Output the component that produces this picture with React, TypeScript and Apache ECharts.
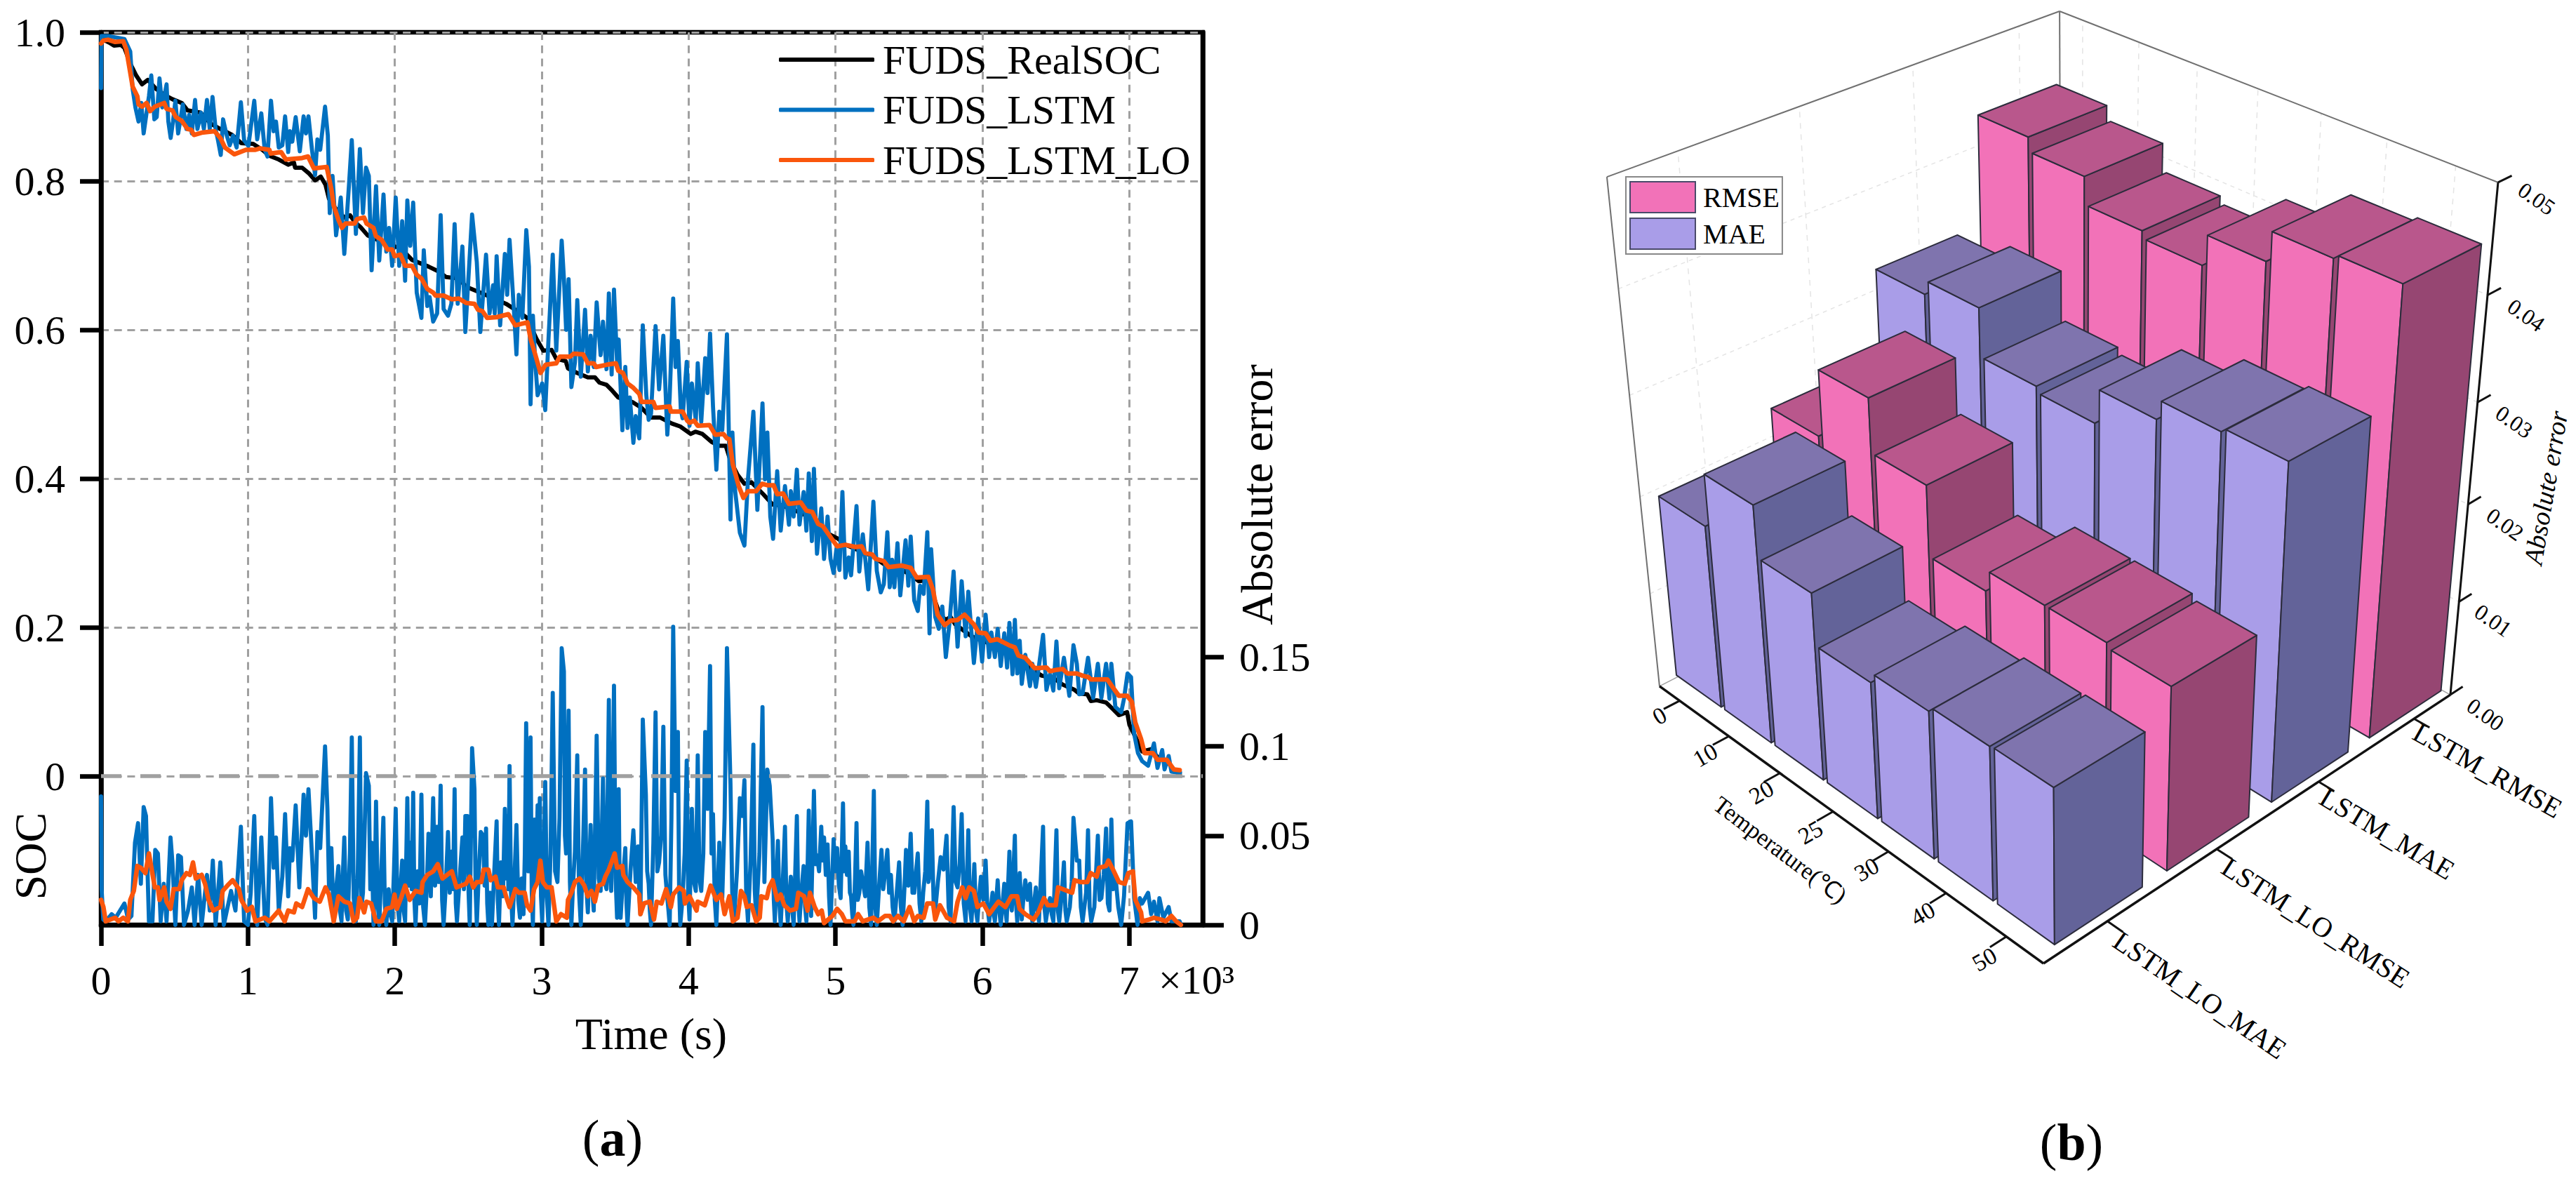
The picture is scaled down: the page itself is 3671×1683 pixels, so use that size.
import React, { useEffect, useRef } from "react";
import * as echarts from "echarts";

// ---------- Panel (a): values, flat lists of time (s), value (×0.001) ----------
const realSOC = [0,1000,16,990,56,986,88,982,135,983,159,979,199,958,239,942,279,930,318,936,374,924,430,916,486,910,549,905,589,895,677,892,748,877,812,870,892,862,955,851,1035,850,1098,842,1146,834,1210,829,1274,822,1313,825,1321,818,1369,818,1417,810,1457,801,1496,806,1528,795,1552,776,1600,762,1656,751,1695,754,1727,745,1767,738,1815,727,1863,723,1926,716,2038,710,2117,694,2229,685,2292,679,2348,671,2436,669,2484,658,2582,650,2677,642,2757,635,2844,624,2900,616,2964,588,3011,572,3067,573,3099,561,3163,558,3179,548,3242,542,3314,536,3362,536,3393,529,3441,526,3481,518,3521,509,3616,503,3680,495,3744,482,3807,482,3887,474,3943,470,4014,460,4046,463,4094,460,4158,449,4213,444,4253,444,4285,424,4333,405,4380,393,4428,395,4508,379,4572,365,4635,364,4763,354,4842,346,4906,331,4970,324,5019,319,5067,311,5178,302,5258,295,5337,284,5449,278,5528,268,5568,262,5640,264,5671,239,5711,217,5751,210,5783,214,5815,204,5926,188,5998,182,6085,176,6133,170,6197,163,6276,151,6356,141,6404,135,6483,132,6547,123,6627,116,6659,111,6714,110,6738,101,6778,102,6842,99,6889,90,6929,82,6985,86,7001,69,7041,53,7088,33,7144,36,7200,24,7263,19,7311,6,7343,3];

const lstmSOC = [0,925,3,995,48,995,159,991,199,974,215,924,234,899,255,880,274,905,290,864,310,892,326,914,342,942,363,883,379,886,398,938,417,899,446,930,458,880,474,858,490,880,506,908,525,864,557,903,581,870,600,889,618,864,640,909,656,870,681,892,700,870,721,909,740,870,759,913,780,870,796,855,815,835,831,883,852,864,876,848,899,861,923,845,952,906,974,855,1003,847,1043,908,1063,856,1091,891,1114,842,1133,833,1157,908,1175,867,1191,880,1210,845,1234,848,1253,887,1274,839,1286,867,1302,853,1325,886,1353,840,1379,887,1395,864,1412,887,1436,842,1457,808,1473,856,1492,842,1525,900,1544,861,1557,757,1576,807,1600,727,1632,778,1656,702,1688,795,1707,855,1735,729,1762,843,1783,757,1804,818,1823,807,1842,680,1872,793,1894,693,1923,782,1942,705,1961,737,1982,686,2006,778,2030,686,2050,746,2070,666,2085,774,2105,713,2125,771,2149,650,2181,616,2197,707,2221,632,2237,644,2261,611,2288,622,2312,754,2332,628,2362,619,2385,635,2407,742,2428,635,2460,712,2480,597,2526,755,2558,691,2582,597,2621,701,2645,622,2669,660,2680,622,2693,699,2717,606,2749,702,2765,647,2781,721,2812,622,2828,567,2844,647,2868,616,2895,734,2913,685,2924,500,2940,619,2956,556,2972,512,3003,528,3024,492,3046,587,3075,701,3099,572,3136,720,3151,669,3166,600,3183,668,3202,523,3226,556,3242,640,3266,537,3295,627,3314,544,3333,592,3354,550,3374,637,3401,566,3417,611,3441,547,3457,649,3476,540,3492,654,3513,556,3524,587,3549,465,3569,550,3584,468,3600,509,3624,448,3640,484,3664,454,3688,606,3712,512,3728,479,3744,487,3775,605,3799,520,3828,592,3855,459,3871,509,3895,642,3911,550,3927,585,3947,493,3959,481,3987,557,4006,471,4022,528,4049,478,4062,555,4086,476,4113,562,4129,515,4146,595,4166,497,4189,412,4209,490,4229,465,4261,594,4285,345,4298,462,4317,383,4349,327,4380,310,4404,399,4441,490,4468,358,4503,501,4520,399,4536,462,4556,349,4575,319,4603,410,4627,330,4656,390,4683,338,4696,383,4715,349,4737,412,4755,338,4783,382,4802,330,4818,407,4839,316,4853,413,4874,299,4903,360,4922,292,4946,349,4966,292,4987,273,5006,305,5027,277,5047,382,5067,267,5090,294,5106,270,5143,363,5162,275,5186,325,5223,251,5258,369,5281,276,5308,247,5329,258,5353,328,5369,254,5385,291,5401,254,5422,313,5441,243,5477,317,5496,256,5512,322,5536,236,5560,222,5576,256,5600,245,5625,328,5640,192,5651,305,5679,214,5703,198,5727,228,5751,160,5775,204,5804,275,5831,174,5859,262,5886,188,5904,248,5942,152,5971,212,5998,154,6022,217,6046,160,6061,193,6085,160,6104,198,6125,148,6149,192,6168,146,6184,206,6205,137,6221,210,6237,138,6254,182,6268,124,6292,163,6324,121,6340,151,6364,120,6385,148,6413,190,6436,116,6460,137,6483,115,6504,181,6523,118,6555,159,6592,108,6620,176,6643,151,6659,110,6682,111,6719,159,6754,105,6786,151,6810,105,6842,151,6865,104,6878,151,6905,93,6945,86,6964,104,6988,138,7012,133,7033,57,7059,31,7088,20,7128,14,7168,44,7192,11,7224,35,7240,9,7268,27,7287,6,7319,5,7346,5];

const loSOC = [0,985,16,989,48,990,96,987,151,988,172,977,191,955,215,927,247,914,255,903,279,900,310,905,334,894,366,900,430,905,446,897,486,895,509,886,549,881,589,870,613,869,632,862,685,865,772,867,812,858,844,845,907,836,987,842,1051,842,1083,844,1146,842,1154,837,1226,839,1258,829,1369,831,1409,833,1449,817,1536,819,1568,789,1584,767,1616,748,1640,737,1664,743,1727,743,1743,749,1791,751,1807,743,1855,737,1871,726,1910,721,1950,708,1982,708,1998,699,2038,701,2070,686,2117,686,2149,674,2181,669,2221,655,2261,650,2277,646,2332,646,2388,641,2436,642,2486,636,2542,635,2566,627,2597,625,2629,616,2693,617,2773,621,2820,606,2903,610,2924,588,2948,572,2992,542,3027,553,3099,555,3123,564,3194,564,3218,568,3282,567,3314,555,3354,555,3370,550,3441,553,3505,555,3521,545,3553,542,3584,528,3624,522,3664,514,3680,503,3760,503,3775,495,3871,497,3879,490,3959,490,3990,478,4006,475,4038,478,4062,471,4142,472,4181,459,4237,460,4261,454,4277,453,4301,419,4341,390,4373,374,4404,383,4460,383,4500,393,4540,391,4579,391,4603,379,4643,380,4683,366,4763,368,4802,357,4842,355,4882,339,4914,336,4971,320,5011,309,5067,311,5138,308,5178,309,5202,300,5250,298,5273,292,5329,289,5361,281,5449,283,5512,280,5552,267,5632,268,5663,251,5695,217,5743,203,5783,209,5831,210,5878,217,5942,204,5974,193,6022,192,6054,182,6101,184,6181,176,6221,173,6245,162,6292,159,6356,145,6436,146,6460,141,6507,143,6547,144,6579,138,6643,138,6682,135,6722,133,6738,130,6850,130,6889,119,6929,108,6985,108,7017,100,7041,72,7080,50,7104,31,7160,31,7192,22,7255,22,7303,9,7343,8];

const lstmError = [0,72,4,20,15,3,32,2,72,6,100,4,159,12,185,3,207,5,231,46,252,57,271,23,290,66,306,61,326,2,350,2,369,42,387,40,406,2,427,23,446,2,473,49,486,35,506,0,525,39,544,38,565,0,592,8,618,21,637,0,661,28,685,0,721,28,740,8,761,36,780,0,812,35,836,0,885,19,915,8,952,55,974,2,1000,0,1019,18,1043,61,1063,0,1091,49,1114,4,1133,0,1157,71,1175,32,1191,49,1210,8,1234,27,1253,62,1274,16,1286,43,1302,36,1325,67,1350,21,1379,73,1395,50,1412,76,1436,39,1457,4,1473,52,1492,43,1525,100,1541,65,1552,20,1560,43,1568,43,1584,2,1600,20,1616,33,1626,8,1637,2,1646,28,1656,49,1668,8,1680,3,1694,40,1707,105,1720,15,1735,2,1748,30,1762,105,1773,10,1783,18,1794,52,1804,85,1823,78,1833,20,1842,46,1855,0,1864,25,1872,69,1884,12,1894,0,1908,30,1922,60,1932,12,1942,0,1958,20,1970,6,1982,2,1994,30,2006,65,2018,12,2030,2,2040,22,2050,36,2060,8,2070,2,2085,71,2095,22,2105,46,2115,20,2125,74,2133,14,2141,0,2155,30,2168,12,2181,73,2193,10,2205,0,2217,20,2229,51,2245,16,2261,71,2274,22,2286,55,2298,24,2312,78,2322,14,2332,0,2347,22,2362,52,2374,18,2385,41,2396,20,2407,76,2415,12,2423,2,2441,26,2460,49,2470,20,2480,61,2494,61,2502,18,2510,0,2526,99,2542,76,2550,20,2558,0,2572,30,2585,52,2601,50,2611,22,2621,54,2629,12,2637,0,2649,18,2661,0,2677,30,2693,58,2701,14,2709,0,2722,35,2736,16,2749,65,2757,26,2765,61,2773,20,2781,89,2791,18,2801,0,2815,28,2828,56,2840,14,2852,4,2864,26,2876,6,2885,40,2894,113,2909,30,2924,105,2932,18,2940,0,2951,59,2961,24,2972,67,2980,30,2987,71,2995,16,3003,2,3013,32,3024,80,3035,16,3046,0,3060,40,3075,130,3091,30,3107,24,3121,60,3136,155,3151,142,3158,50,3166,40,3183,120,3192,24,3202,0,3214,24,3226,41,3242,95,3254,18,3266,0,3280,40,3295,87,3305,20,3314,7,3333,56,3344,20,3354,8,3374,106,3388,26,3401,19,3417,82,3429,24,3441,20,3457,126,3465,30,3473,19,3492,134,3503,26,3513,4,3524,76,3531,20,3537,4,3553,26,3569,43,3577,12,3584,0,3604,30,3624,53,3640,24,3656,44,3664,18,3672,6,3688,115,3709,73,3718,30,3728,23,3736,8,3744,0,3760,46,3775,119,3787,30,3799,35,3813,50,3828,111,3842,28,3855,15,3863,8,3871,0,3883,60,3895,167,3911,75,3927,108,3935,22,3943,0,3959,15,3973,40,3987,92,3997,18,4006,3,4022,65,4036,24,4049,19,4062,95,4074,26,4086,19,4100,40,4113,108,4129,65,4146,145,4156,40,4166,62,4178,14,4189,0,4209,46,4219,20,4229,15,4245,60,4261,155,4285,79,4297,18,4309,2,4329,30,4349,71,4365,61,4380,81,4392,18,4404,2,4422,36,4441,101,4450,20,4460,4,4482,40,4503,122,4516,24,4536,87,4552,78,4572,48,4580,14,4587,2,4598,26,4608,47,4618,12,4627,0,4642,26,4656,55,4666,12,4675,2,4686,16,4696,27,4706,8,4715,0,4726,30,4737,61,4746,14,4755,2,4769,20,4783,33,4793,10,4802,2,4818,64,4826,20,4834,5,4853,75,4864,34,4874,39,4888,30,4903,55,4912,36,4922,49,4934,28,4946,45,4956,16,4966,0,4987,48,4999,30,5011,43,5023,22,5035,15,5051,68,5059,30,5067,44,5078,28,5090,41,5098,18,5106,16,5114,6,5122,0,5133,26,5143,57,5152,14,5162,18,5174,30,5186,24,5202,16,5218,46,5230,10,5242,0,5261,75,5271,10,5281,0,5297,22,5313,42,5325,20,5337,29,5353,42,5365,18,5377,28,5389,10,5401,2,5417,18,5433,35,5445,10,5457,0,5469,20,5480,42,5496,22,5512,51,5524,18,5536,18,5548,30,5560,40,5572,12,5584,2,5597,18,5611,30,5625,69,5633,24,5640,28,5656,53,5668,12,5679,8,5697,24,5716,38,5735,31,5756,50,5770,10,5783,2,5804,66,5818,24,5831,21,5845,34,5859,62,5873,12,5886,2,5904,53,5915,10,5926,2,5945,34,5956,8,5966,2,5978,16,5990,27,6006,14,6022,36,6034,10,6046,2,6058,10,6069,18,6077,6,6085,2,6104,25,6115,8,6125,0,6137,12,6149,23,6157,8,6165,2,6184,41,6192,12,6200,8,6221,50,6229,12,6237,2,6254,29,6268,3,6280,16,6292,25,6308,14,6324,23,6332,8,6340,2,6352,12,6364,21,6375,8,6385,2,6413,55,6422,10,6432,2,6446,10,6460,15,6472,6,6483,2,6504,53,6514,8,6523,2,6539,16,6555,35,6565,8,6574,2,6595,10,6608,24,6620,60,6643,36,6659,36,6670,10,6682,2,6706,18,6719,53,6730,10,6741,2,6762,10,6786,50,6798,14,6810,15,6826,28,6842,54,6854,12,6865,8,6878,59,6891,20,6905,28,6925,10,6945,0,6964,16,6988,57,7012,58,7033,15,7056,0,7072,15,7088,12,7128,18,7149,6,7168,13,7192,2,7205,15,7232,4,7268,10,7287,2,7319,2,7343,2,7351,0];

const loError = [0,14,16,10,32,2,96,4,119,2,151,4,183,2,199,14,223,19,247,33,271,32,302,29,326,40,347,30,366,21,387,21,398,14,430,21,446,13,473,9,494,20,533,20,549,25,581,29,605,28,626,35,645,26,685,28,708,23,732,14,764,8,812,10,828,19,860,22,896,25,939,20,955,14,995,8,1027,10,1051,2,1114,4,1146,2,1210,8,1250,2,1274,8,1313,7,1329,12,1369,10,1409,20,1449,15,1489,13,1528,21,1552,17,1584,2,1616,16,1656,13,1695,12,1719,2,1743,4,1759,15,1791,7,1807,13,1839,12,1871,2,1910,2,1942,9,1982,10,1998,17,2014,9,2046,16,2070,22,2101,14,2141,19,2181,18,2189,24,2221,28,2261,30,2292,34,2324,26,2388,30,2420,21,2484,23,2510,27,2534,21,2558,24,2589,24,2605,31,2637,31,2653,25,2685,27,2701,21,2741,21,2757,16,2781,10,2820,20,2844,18,2884,18,2900,11,2924,8,2948,20,2972,24,2991,36,3008,24,3035,21,3067,21,3099,2,3131,6,3171,4,3179,14,3202,18,3226,24,3258,26,3290,22,3314,16,3338,19,3362,13,3385,22,3417,23,3433,27,3457,31,3497,40,3513,32,3549,33,3556,28,3584,24,3624,21,3664,17,3672,6,3696,12,3736,13,3764,3,3783,13,3815,12,3847,20,3879,10,3895,17,3935,21,3967,19,3975,12,4006,16,4054,8,4062,13,4110,11,4150,22,4189,14,4221,17,4245,6,4277,16,4301,2,4333,4,4357,19,4380,16,4396,10,4428,11,4460,2,4484,4,4495,16,4532,15,4548,21,4572,25,4603,14,4627,17,4651,11,4691,8,4731,9,4747,18,4786,16,4810,8,4826,18,4858,10,4882,6,4906,8,4922,1,4979,5,5011,9,5043,6,5067,2,5130,2,5154,6,5186,2,5258,4,5289,2,5337,5,5369,5,5393,2,5425,5,5464,2,5504,10,5536,2,5560,5,5600,4,5624,12,5664,12,5679,3,5711,11,5759,4,5807,2,5831,13,5863,21,5886,15,5910,21,5942,19,5966,10,6006,12,6046,6,6109,13,6157,10,6197,16,6237,16,6253,9,6292,6,6348,3,6380,7,6420,15,6444,11,6499,11,6515,21,6611,18,6627,25,6666,24,6714,24,6738,29,6778,27,6794,32,6842,33,6858,36,6889,31,6929,24,6969,23,6993,29,7025,30,7041,14,7080,7,7088,2,7136,3,7168,4,7216,3,7248,2,7287,5,7319,2,7351,0];

const zeroLine = [0,0,7500,0];
const timeTicks = [0,1,2,3,4,5,6,7];
const socTicks = [0,0.2,0.4,0.6,0.8,1];
const errorTicks = [0,0.05,0.1,0.15];

// ---------- Panel (b) ----------
const temperatures = ["0","10","20","25","30","40","50"];
const models = ["LSTM_LO_MAE","LSTM_LO_RMSE","LSTM_MAE","LSTM_RMSE"];
const absTicks = ["0.00","0.01","0.02","0.03","0.04","0.05"];
const lstmRMSE = [0.0428,0.0414,0.0387,0.0380,0.0410,0.0439,0.0443];
const lstmMAE = [0.0318,0.0332,0.0284,0.0278,0.0312,0.0331,0.0335];
const loRMSE = [0.0226,0.0294,0.0240,0.0169,0.0190,0.0190,0.0185];
const loMAE = [0.0190,0.0244,0.0192,0.0140,0.0150,0.0155,0.0156];

const serif = "'Liberation Serif'";
const GRAY = "#A0A0A0";

const pairs = (flat: number[], k = 1000) => {
  const out: number[][] = [];
  for (let i = 0; i < flat.length; i += 2) out.push([flat[i] / 1000, flat[i + 1] / k]);
  return out;
};

// Projective camera fitted to the six visible corners of the 3D box.
function fitCamera() {
  const w = [[0,0,0],[1,0,0],[1,1,0],[0,0,1],[1,1,1],[0,1,1]];
  const im = [[2365,978],[2912,1373],[3492,990],[2290,252],[3560,260],[2935,16]];
  const rows: number[][] = [], rhs: number[] = [];
  w.forEach((p, i) => {
    const x = im[i][0] / 1000, y = im[i][1] / 1000;
    rows.push([p[0],p[1],p[2],1,0,0,0,0,-x*p[0],-x*p[1],-x*p[2]]); rhs.push(x);
    rows.push([0,0,0,0,p[0],p[1],p[2],1,-y*p[0],-y*p[1],-y*p[2]]); rhs.push(y);
  });
  const n = 11;
  const A = Array.from({length:n},(_,a)=>{
    const r = new Array(n+1).fill(0);
    for (let b=0;b<n;b++) rows.forEach(row=>{ r[b]+=row[a]*row[b]; });
    rows.forEach((row,k)=>{ r[n]+=row[a]*rhs[k]; });
    return r;
  });
  for (let c=0;c<n;c++){
    let m=c; for(let r=c+1;r<n;r++) if(Math.abs(A[r][c])>Math.abs(A[m][c])) m=r;
    [A[c],A[m]]=[A[m],A[c]];
    for(let r=0;r<n;r++){ if(r===c) continue; const f=A[r][c]/A[c][c]; for(let k=c;k<=n;k++) A[r][k]-=f*A[c][k]; }
  }
  return A.map((r,i)=>r[n]/r[i]);
}
const cam = fitCamera();
const proj = (u:number,v:number,w:number) => {
  const d = cam[8]*u+cam[9]*v+cam[10]*w+1;
  return [1000*(cam[0]*u+cam[1]*v+cam[2]*w+cam[3])/d, 1000*(cam[4]*u+cam[5]*v+cam[6]*w+cam[7])/d];
};
const U = (i:number)=>0.06+i*0.1425;
const V = (j:number)=>0.14+j*0.253;
const HA = 0.066, HB = 0.098, VMAX = 0.05;

const barSeries = (name:string, row:number, values:number[], front:string, side:string, top:string) => ({
  type:"custom", name, xAxisIndex:1, yAxisIndex:1, clip:false, silent:true,
  itemStyle:{color:front,borderColor:"#4a4a6a",borderWidth:1.5},
  encode:{x:0,y:1},
  data: values.map((v,i)=>[i,v]),
  renderItem:(_:any, api:any)=>{
    const i=api.value(0), w=api.value(1)/VMAX;
    const u=U(i), v=V(row);
    const P=(a:number,b:number,h:number)=>api.coord(proj(u+a*HA,v+b*HB,h));
    const st=(fill:string)=>({fill,stroke:"#2c2c3c",lineWidth:2,lineJoin:"round"});
    return {type:"group",children:[
      {type:"polygon",shape:{points:[P(-1,-1,0),P(1,-1,0),P(1,-1,w),P(-1,-1,w)]},style:st(front)},
      {type:"polygon",shape:{points:[P(1,-1,0),P(1,1,0),P(1,1,w),P(1,-1,w)]},style:st(side)},
      {type:"polygon",shape:{points:[P(-1,-1,w),P(1,-1,w),P(1,1,w),P(-1,1,w)]},style:st(top)},
    ]};
  },
});

const wallSeries = {
  type:"custom", name:"walls", xAxisIndex:1, yAxisIndex:1, clip:false, silent:true,
  data:[[0,0]], encode:{x:0,y:1},
  renderItem:(_:any, api:any)=>{
    const c=(u:number,v:number,w:number)=>api.coord(proj(u,v,w));
    const seg=(a:number[],b:number[],stroke:string,lineWidth:number,dash?:number[])=>({type:"line",shape:{x1:a[0],y1:a[1],x2:b[0],y2:b[1]},style:{stroke,lineWidth,lineDash:dash,fill:null}});
    const kids:any[]=[];
    const soft="#E4E4E4";
    absTicks.forEach((_t,k)=>{
      if(k===0||k===5) return;
      const w=k/5;
      kids.push(seg(c(0,0,w),c(0,1,w),soft,1.5,[6,6]));
      kids.push(seg(c(0,1,w),c(1,1,w),soft,1.5,[6,6]));
    });
    temperatures.forEach((_t,i)=>kids.push(seg(c(U(i),1,0),c(U(i),1,1),soft,1.5,[8,8])));
    models.forEach((_t,j)=>kids.push(seg(c(0,V(j),0),c(0,V(j),1),soft,1.5,[8,8])));
    const frame="#707070";
    kids.push(seg(c(0,0,1),c(0,1,1),frame,2));
    kids.push(seg(c(0,1,1),c(1,1,1),frame,2));
    kids.push(seg(c(0,0,0),c(0,0,1),frame,2));
    kids.push(seg(c(0,1,0),c(0,1,1),frame,2));
    kids.push(seg(c(0,0,0),c(0,1,0),"#A0A0A0",1.5));
    kids.push(seg(c(0,1,0),c(1,1,0),"#A0A0A0",1.5));
    kids.push(seg(c(0,0,0),c(1,0,0),"#111",3.5));
    kids.push(seg(c(1,0,0),c(1,1,0),"#111",3.5));
    kids.push(seg(c(1,1,0),c(1,1,1),"#111",3));
    temperatures.forEach((_t,i)=>kids.push(seg(c(U(i),0,0),c(U(i),-0.035,0),"#111",3)));
    models.forEach((_t,j)=>kids.push(seg(c(1,V(j),0),c(1.035,V(j),0),"#111",3)));
    absTicks.forEach((_t,k)=>kids.push(seg(c(1,1,k/5),c(1,1.035,k/5),"#111",3)));
    return {type:"group",children:kids};
  },
};

const txt=(text:string,x:number,y:number,fontSize:number,rotation=0,extra:any={})=>({
  type:"text",x,y,rotation,silent:true,
  style:{text,fontFamily:serif,fontSize,fill:"#000",align:"center",verticalAlign:"middle",...extra},
});

const tempPos=[[2365,1020],[2430,1076],[2510,1129],[2580,1186],[2660,1239],[2740,1302],[2828,1367]];
const modelPos=[[3135,1418,0.60],[3300,1315,0.57],[3402,1188,0.54],[3545,1098,0.51]];
const absPos=[[3542,1018],[3553,884],[3570,747],[3583,601],[3600,449],[3615,283]];

const lineS=(name:string,data:number[][],color:string,width:number,yIdx=0,z=2)=>({
  type:"line",name,data,xAxisIndex:0,yAxisIndex:yIdx,showSymbol:false,symbol:"none",smooth:false,silent:true,z,
  lineStyle:{color,width,join:"round",cap:"round"},itemStyle:{color},
});

export default function App(){
  const ref=useRef<HTMLDivElement>(null);
  useEffect(()=>{
    document.body.style.margin="0";
    document.body.style.background="#fff";
    const chart=echarts.init(ref.current!,undefined,{renderer:"svg"});
    chart.setOption({
      animation:false,
      backgroundColor:"#fff",
      grid:[
        {left:144,top:46,width:1570,height:1272,show:true,borderColor:"#000",borderWidth:6.5,containLabel:false},
        {left:0,top:0,width:3671,height:1683,show:false},
      ],
      xAxis:[
        {type:"value",gridIndex:0,min:0,max:7.5,interval:1,
          axisLine:{show:true,onZero:false,lineStyle:{color:"#000",width:6.5}},
          axisTick:{show:true,length:30,inside:false,customValues:timeTicks,lineStyle:{color:"#000",width:6.5}},
          axisLabel:{show:true,margin:50,customValues:timeTicks,formatter:(v:number)=>String(v),fontFamily:serif,fontSize:58,color:"#000"},
          splitLine:{show:true,lineStyle:{color:GRAY,width:3,type:[11,7.7]}},
        },
        {type:"value",gridIndex:1,min:0,max:3671,show:false,splitLine:{show:false}},
      ],
      yAxis:[
        {type:"value",gridIndex:0,min:-0.2,max:1,interval:0.2,position:"left",
          axisLine:{show:true,onZero:false,lineStyle:{color:"#000",width:6.5}},
          axisTick:{show:true,length:30,customValues:socTicks,lineStyle:{color:"#000",width:6.5}},
          axisLabel:{show:true,margin:51,customValues:socTicks,formatter:(v:number)=>v===0?"0":v.toFixed(1),fontFamily:serif,fontSize:58,color:"#000"},
          splitLine:{show:true,lineStyle:{color:GRAY,width:3,type:[11,7.7]}},
        },
        {type:"value",gridIndex:1,min:0,max:1683,inverse:true,show:false,splitLine:{show:false}},
        {type:"value",gridIndex:0,min:0,max:0.5,interval:0.05,position:"right",
          axisLine:{show:true,onZero:false,lineStyle:{color:"#000",width:6.5}},
          axisTick:{show:true,length:30,customValues:errorTicks,lineStyle:{color:"#000",width:6.5}},
          axisLabel:{show:true,margin:52,customValues:errorTicks,formatter:(v:number)=>String(v),fontFamily:serif,fontSize:58,color:"#000",align:"left"},
          splitLine:{show:false},
        },
      ],
      legend:[
        {left:1110,top:56,orient:"vertical",padding:0,itemWidth:136,itemHeight:6,itemGap:13.5,icon:"roundRect",
          selectedMode:false,textStyle:{fontFamily:serif,fontSize:58,color:"#000",padding:[0,0,0,7]},
          data:["FUDS_RealSOC","FUDS_LSTM","FUDS_LSTM_LO"]},
        {left:2317,top:252,orient:"vertical",padding:[6,4,6,5],itemWidth:93,itemHeight:44,itemGap:6,icon:"rect",
          backgroundColor:"#fff",borderColor:"#888",borderWidth:2,selectedMode:false,
          textStyle:{fontFamily:serif,fontSize:40,color:"#000",padding:[0,0,0,6]},data:["RMSE","MAE"]},
      ],
      series:[
        wallSeries,
        barSeries("RMSE",3,lstmRMSE,"#F272B8","#964672","#B9578C"),
        barSeries("MAE",2,lstmMAE,"#A99DE8","#636399","#7F74AE"),
        barSeries("RMSE",1,loRMSE,"#F272B8","#964672","#B9578C"),
        barSeries("MAE",0,loMAE,"#A99DE8","#636399","#7F74AE"),
        lineS("FUDS_RealSOC",pairs(realSOC),"#000",6),
        lineS("FUDS_LSTM",pairs(lstmSOC),"#0070C0",5.8),
        lineS("FUDS_LSTM_LO",pairs(loSOC),"#FA560C",6.5),
        lineS("FUDS_LSTM",pairs(lstmError),"#0070C0",5.8,2),
        lineS("FUDS_LSTM_LO",pairs(loError),"#FA560C",6.5,2),
        {type:"line",name:"zero",data:pairs(zeroLine),xAxisIndex:0,yAxisIndex:0,symbol:"none",silent:true,z:3,
          lineStyle:{color:GRAY,width:5.5,type:[29,27]}},
      ],
      graphic:{elements:[
        txt("SOC",43,1220,64,Math.PI/2),
        txt("Time (s)",928,1473,64),
        txt("Absolute error",1791,705,64,Math.PI/2),
        txt("×10³",1705,1396,58),
        {type:"text",x:873,y:1622,silent:true,style:{text:"({b|a})",fontFamily:serif,fontSize:74,fill:"#000",align:"center",verticalAlign:"middle",rich:{b:{fontFamily:serif,fontSize:74,fontWeight:"bold",fill:"#000"}}}},
        {type:"text",x:2952,y:1628,silent:true,style:{text:"({b|b})",fontFamily:serif,fontSize:74,fill:"#000",align:"center",verticalAlign:"middle",rich:{b:{fontFamily:serif,fontSize:74,fontWeight:"bold",fill:"#000"}}}},
        ...temperatures.map((t,i)=>txt(t,tempPos[i][0],tempPos[i][1],34,0.52)),
        ...models.map((t,j)=>txt(t,modelPos[j][0],modelPos[j][1],40,-modelPos[j][2])),
        ...absTicks.map((t,k)=>txt(t,absPos[k][0],absPos[k][1],32,-0.61)),
        txt("Temperature(℃)",2537,1211,34,-0.65),
        txt("Absolute error",3628,695,38,1.40,{fontStyle:"italic"}),
      ]},
    });
    return ()=>chart.dispose();
  },[]);
  return <div ref={ref} style={{width:3671,height:1683}}/>;
}
